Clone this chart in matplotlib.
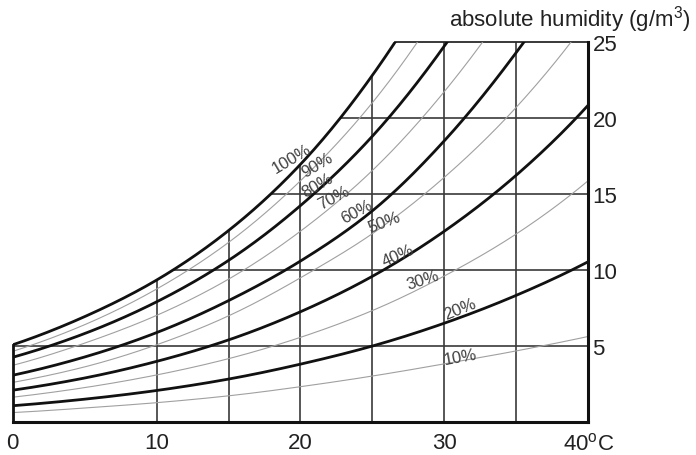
import numpy as np
import matplotlib
matplotlib.use('Agg')
import matplotlib.pyplot as plt
from matplotlib.patches import Polygon

plt.rcParams['font.family'] = ['Liberation Sans', 'DejaVu Sans']
plt.rcParams['mathtext.fontset'] = 'custom'
plt.rcParams['mathtext.rm'] = 'Liberation Sans'

# ---------------- data ----------------
temps = [0, 5, 10, 15, 20, 25, 30, 35, 40]          # deg C
hum_100 = [5.1, 6.95, 9.35, 12.6, 16.95, 22.8, 30.3, 39.6, 51.1]
hum_90 = [4.67, 6.42, 8.76, 11.82, 15.87, 21.0, 27.66, 35.94, 46.29]
hum_80 = [4.28, 5.84, 7.92, 10.64, 14.24, 18.8, 24.72, 32.08, 41.28]
hum_70 = [3.75, 5.21, 7.03, 9.41, 12.56, 16.55, 21.73, 28.17, 36.22]
hum_60 = [3.1, 4.3, 5.9, 8.0, 10.6, 13.9, 18.5, 24.3, 31.2]
hum_50 = [2.63, 3.65, 5.1, 7.0, 9.5, 12.4, 16.1, 20.7, 26.5]
hum_40 = [2.12, 2.92, 4.01, 5.42, 7.27, 9.6, 12.56, 16.24, 20.84]
hum_30 = [1.66, 2.29, 3.12, 4.19, 5.59, 7.35, 9.62, 12.38, 15.88]
hum_20 = [1.1, 1.53, 2.1, 2.85, 3.83, 5.02, 6.52, 8.35, 10.56]
hum_10 = [0.65, 0.95, 1.3, 1.75, 2.35, 3.05, 3.85, 4.7, 5.65]
rh_labels = ['100%', '90%', '80%', '70%', '60%', '50%', '40%', '30%', '20%', '10%']
x_tick_values = [0, 10, 20, 30, 40]
x_tick_labels = ['0', '10', '20', '30', '40$^{\\mathregular{o}}$C']
y_tick_values = [5, 10, 15, 20, 25]
y_tick_labels = ['5', '10', '15', '20', '25']
x_grid = [10, 15, 20, 25, 30, 35]
y_grid = [5, 10, 15, 20]
y_unit = 'absolute humidity (g/m$^{\\mathregular{3}}$)'

curves = [hum_100, hum_90, hum_80, hum_70, hum_60,
          hum_50, hum_40, hum_30, hum_20, hum_10]

# ---------------- layout / style ----------------
# label anchor (x, y in data units) and rotation (deg)
label_layout = [(19.4, 17.35, 31), (21.2, 16.95, 31), (21.2, 15.6, 30),
                (22.3, 14.8, 28), (23.9, 13.9, 28), (25.8, 13.2, 21),
                (26.8, 11.0, 24), (28.5, 9.38, 18), (31.1, 7.48, 22),
                (31.1, 4.35, 10)]


def smooth(xs, ys, n=400):
    """Cubic Hermite through the points, in log space (for drawing only)."""
    xs = np.asarray(xs, float)
    ly = np.log(np.asarray(ys, float))
    m = np.gradient(ly, xs)
    xf = np.linspace(xs[0], xs[-1], n)
    idx = np.clip(np.searchsorted(xs, xf, side='right') - 1, 0, len(xs) - 2)
    h = xs[idx + 1] - xs[idx]
    t = (xf - xs[idx]) / h
    h00 = 2 * t**3 - 3 * t**2 + 1
    h10 = t**3 - 2 * t**2 + t
    h01 = -2 * t**3 + 3 * t**2
    h11 = t**3 - t**2
    lf = h00 * ly[idx] + h10 * h * m[idx] + h01 * ly[idx + 1] + h11 * h * m[idx + 1]
    return xf, np.exp(lf)


fig = plt.figure(figsize=(6.96, 4.56), dpi=100)
ax = fig.add_axes([0.01825, 0.0713, 0.827, 0.8351])
ax.set_xlim(0, 40)
ax.set_ylim(0, 25)
for s in ax.spines.values():
    s.set_visible(False)

# saturation region (below the 100% curve) used to clip the grid
sx, sy = smooth(temps, hum_100)
region = Polygon([(0, 0)] + list(zip(sx, sy)) + [(40, 0)], closed=True,
                 transform=ax.transData, facecolor='none', edgecolor='none')
ax.add_patch(region)

grid_kw = dict(color='#3a3a3a', lw=1.2)
for gx in x_grid:
    ln, = ax.plot([gx, gx], [0, 25], **grid_kw, zorder=1)
    ln.set_clip_path(region)
for gy in y_grid:
    ln, = ax.plot([0, 40], [gy, gy], **grid_kw, zorder=1)
    ln.set_clip_path(region)

# frame pieces
t25 = np.interp(25, sy, sx)
ax.plot([t25, 40], [25, 25], color='#2a2a2a', lw=1.3, clip_on=False, zorder=2)
ax.plot([0, 40], [0, 0], color='#111111', lw=2.2, clip_on=False,
        solid_capstyle='projecting', zorder=3)
ax.plot([40, 40], [0, 25], color='#111111', lw=2.2, clip_on=False,
        solid_capstyle='projecting', zorder=3)
ax.plot([0, 0], [0, sy[0]], color='#111111', lw=2.0, clip_on=False,
        solid_capstyle='projecting', zorder=3)

# humidity curves
for i, vals in enumerate(curves):
    cx, cy = smooth(temps, vals)
    if i % 2 == 0:
        ax.plot(cx, cy, color='#111111', lw=2.0, zorder=4,
                solid_capstyle='butt')
    else:
        ax.plot(cx, cy, color='#a0a0a0', lw=0.8, zorder=2)

for lab, (lx, ly, rot) in zip(rh_labels, label_layout):
    ax.text(lx, ly, lab, rotation=rot, rotation_mode='anchor',
            ha='center', va='center', fontsize=12, color='#404040', zorder=5)

# ticks
ax.set_xticks(x_tick_values)
ax.set_xticklabels(x_tick_labels)
ax.yaxis.tick_right()
ax.set_yticks(y_tick_values)
ax.set_yticklabels(y_tick_labels)
ax.tick_params(axis='x', length=0, pad=7, labelsize=16, colors='#222222')
ax.tick_params(axis='y', length=0, pad=3, labelsize=16, colors='#222222')

fig.text(690 / 696, 1 - 20 / 456, y_unit, ha='right', va='center',
         fontsize=16, color='#222222')

fig.savefig('out.png', dpi=100, facecolor='white')
